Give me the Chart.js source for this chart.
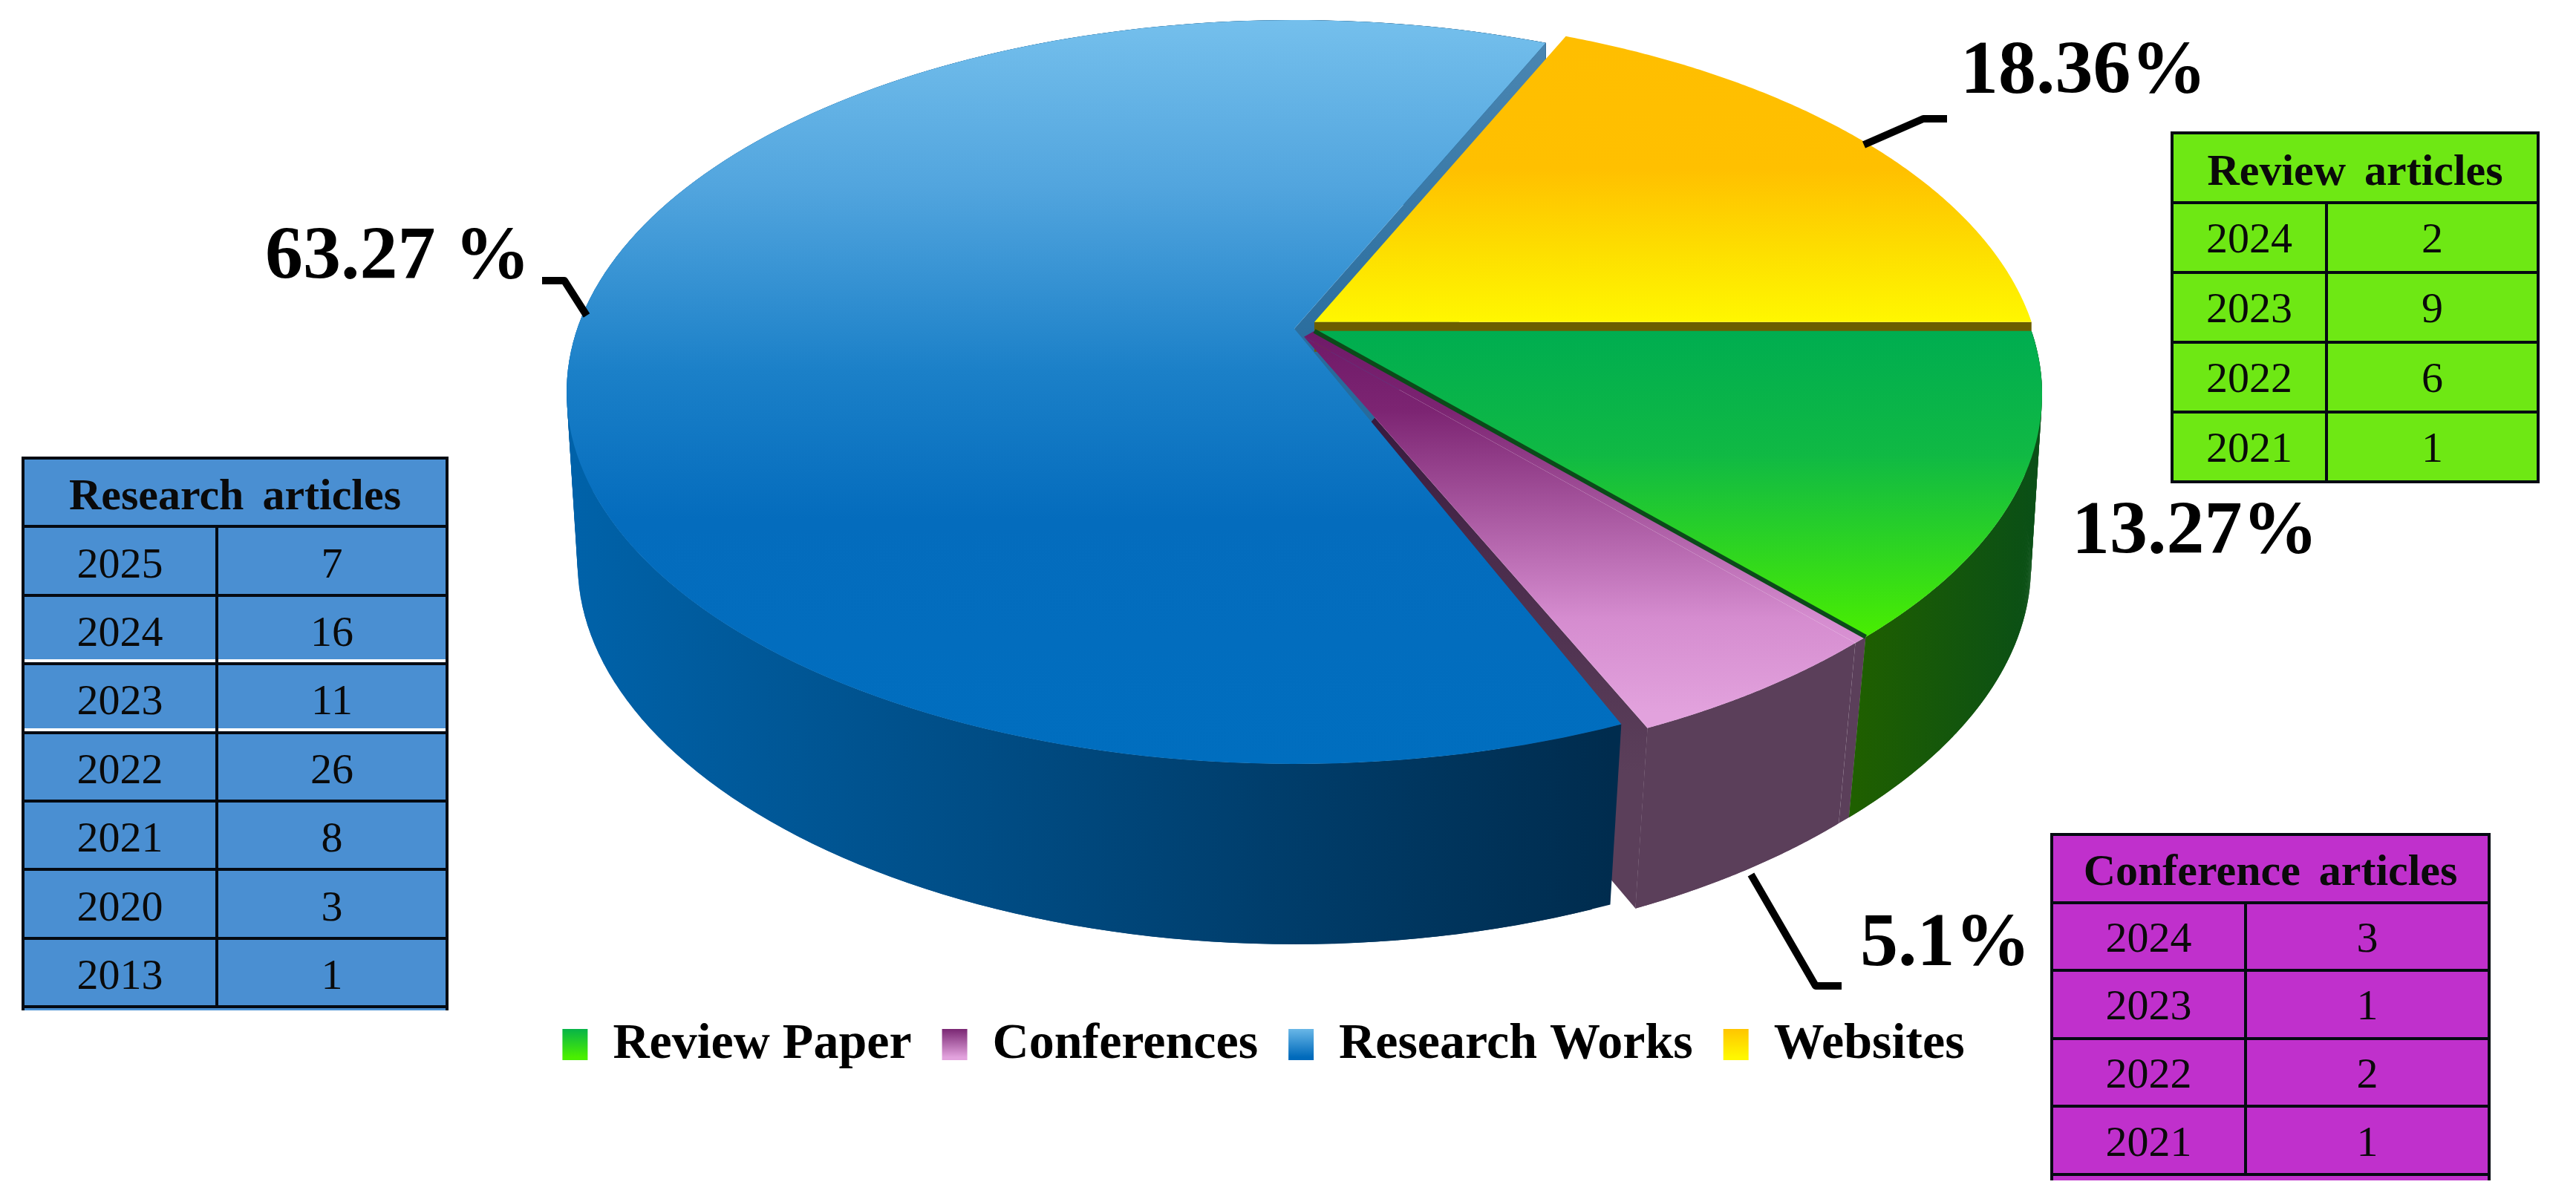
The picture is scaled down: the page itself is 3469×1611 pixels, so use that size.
<!DOCTYPE html>
<html>
<head>
<meta charset="utf-8">
<title>Literature sources</title>
<script src="https://cdn.jsdelivr.net/npm/chart.js@4/dist/chart.umd.min.js"></script>
<style>
  html, body { margin: 0; padding: 0; background: #fff; }
  #wrap { position: relative; width: 3469px; height: 1611px; overflow: hidden; }
  canvas { position: absolute; left: 0; top: 0; }
  table {
    position: absolute; border-collapse: collapse; table-layout: fixed;
    font-family: "Liberation Serif", serif; color: #0a0a0a; text-align: center;
  }
  td, th { border: 4px solid #050a12; padding: 0; }
  th { font-weight: bold; word-spacing: 10px; padding-top: 6px; }
  tr.nick td { box-shadow: inset 0 -4px 0 #fff; }
</style>
</head>
<body>
<div id="wrap">
  <canvas id="chart" width="3469" height="1611"></canvas>
</div>
<script>
// Slices, clockwise from 3 o'clock
const categories = ['Review Paper', 'Conferences', 'Research Works', 'Websites'];
const shares = [13.27, 5.1, 63.27, 18.36];
const shareLabels = ['13.27%', '5.1%', '63.27 %', '18.36%'];

// Article counts per year
const researchYears = ['2025', '2024', '2023', '2022', '2021', '2020', '2013'];
const researchCounts = [7, 16, 11, 26, 8, 3, 1];
const reviewYears = ['2024', '2023', '2022', '2021'];
const reviewCounts = [2, 9, 6, 1];
const conferenceYears = ['2024', '2023', '2022', '2021'];
const conferenceCounts = [3, 1, 2, 1];

// Pie geometry on the page. tilt moves the pie centre off the ellipse centre (perspective)
const pie = { cx: 1759, cy: 523, rx: 980, ry: 501, tilt: 0.17, depth: 243 };

const looks = [
  { // Review
    shift: [11, 8],
    top: [[0, '#00ad50'], [0.4, '#10b944'], [1, '#4aef00']], topY: [446, 862],
    wall: ['#1f5f00', '#0a4f16'], wallX: [2500, 2740]
  },
  { // Conferences
    shift: [-3, 16],
    top: [[0, '#6f1a68'], [0.2, '#7c2472'], [0.75, '#d58ccf'], [1, '#e2a2dd']], topY: [450, 960],
    wall: ['#5b3f5a', '#5b3f5a'], wallX: [2170, 2500],
    face: [[0, '#2c0f36'], [0.5, '#4a2c4c'], [1, '#5b3f5a']]
  },
  { // Research
    shift: [-16, 5], startPad: 0.022,
    top: [[0, '#74bfec'], [0.22, '#52a5de'], [0.47, '#1b80c8'], [0.67, '#046cbd'], [1, '#006ebf']], topY: [30, 1030],
    wall: ['#0062a9', '#002c4e'], wallX: [770, 2170],
    face: [[0, '#4a86b2'], [1, '#276b9c']]
  },
  { // Websites
    shift: [11, -4],
    top: [[0, '#ffbe00'], [0.45, '#ffc000'], [0.75, '#fddf00'], [1, '#fff700']], topY: [60, 434],
    face: '#6b5d00'
  }
];

// Leader lines and where each percentage sits
const leaders = [
  null,
  [[2358, 1178], [2445, 1328], [2480, 1328]],
  [[790, 425], [760, 378], [730, 378]],
  [[2510, 195], [2590, 160], [2622, 160]]
];
const labelAt = [[2790, 719], [2505, 1274], [357, 349], [2640, 99]];

// Rim point of the perspective circle at a canvas angle
function rim(angle, shift) {
  const u = Math.cos(angle), v = -Math.sin(angle);
  const a = pie.tilt, w = 1 + a * v;
  const x = u * Math.sqrt(1 - a * a) / w;
  const y = (v + a) / w;
  return [pie.cx + shift[0] + pie.rx * x, pie.cy + shift[1] - pie.ry * y];
}

function apex(shift) {
  return [pie.cx + shift[0], pie.cy + shift[1] - pie.ry * pie.tilt];
}

// Same point on the underside of the disc, narrower the nearer it is to the viewer
function under(p) {
  const k = Math.min(1, 0.985 - 0.02 * (p[1] - pie.cy) / 450);
  return [pie.cx + (p[0] - pie.cx) * k, p[1] + pie.depth];
}

function vGrad(ctx, stops, y0, y1) {
  if (typeof stops === 'string') return stops;
  const g = ctx.createLinearGradient(0, y0, 0, y1);
  stops.forEach(s => g.addColorStop(s[0], s[1]));
  return g;
}

function hGrad(ctx, cols, x0, x1) {
  const g = ctx.createLinearGradient(x0, 0, x1, 0);
  g.addColorStop(0, cols[0]);
  g.addColorStop(1, cols[1]);
  return g;
}

function poly(ctx, pts, fill) {
  ctx.beginPath();
  pts.forEach((p, i) => i ? ctx.lineTo(p[0], p[1]) : ctx.moveTo(p[0], p[1]));
  ctx.closePath();
  ctx.fillStyle = fill;
  ctx.fill();
}

function rimPoints(s, e, shift) {
  const pts = [];
  const n = 160;
  for (let i = 0; i <= n; i++) pts.push(rim(s + (e - s) * i / n, shift));
  return pts;
}

// overlapping quads, so the side outline runs straight from the top rim to the underside
function drawWall(ctx, look, s, e) {
  const upper = rimPoints(s, e, look.shift);
  const fill = hGrad(ctx, look.wall, look.wallX[0], look.wallX[1]);
  for (let i = 0; i < upper.length - 1; i++) {
    const p = upper[i], q = upper[Math.min(i + 2, upper.length - 1)];
    poly(ctx, [p, q, under(q), under(p)], fill);
  }
}

function drawFace(ctx, look, angle) {
  const a = apex(look.shift), r = rim(angle, look.shift);
  const fill = vGrad(ctx, look.face, Math.min(a[1], r[1]), Math.max(a[1], r[1]) + 60);
  poly(ctx, [a, r, under(r), under(a)], fill);
}

function drawTop(ctx, look, s, e) {
  const pts = [apex(look.shift)].concat(rimPoints(s, e, look.shift));
  poly(ctx, pts, vGrad(ctx, look.top, look.topY[0], look.topY[1]));
}

const pie3d = {
  id: 'pie3d',
  // the library's arcs give the angles; the slices are painted here in perspective
  beforeDatasetsDraw(chart) {
    const ctx = chart.ctx;
    const ang = chart.getDatasetMeta(0).data.map(a => [a.startAngle, a.endAngle]);
    const [rev, conf, res, web] = [0, 1, 2, 3];
    const resStart = ang[res][0] + looks[res].startPad;
    ctx.save();
    // far side first, near side last
    drawFace(ctx, looks[conf], ang[conf][1]);
    drawWall(ctx, looks[res], resStart, ang[res][1]);
    drawFace(ctx, looks[res], ang[res][1]);
    drawTop(ctx, looks[res], resStart, ang[res][1]);
    // brown strip under the yellow slice, the green one hides the rest of it
    const w0 = apex(looks[web].shift), w1 = rim(ang[web][1], looks[web].shift);
    poly(ctx, [w0, w1, [w1[0], w1[1] + 40], [w0[0], w0[1] + 40]], looks[web].face);
    drawTop(ctx, looks[web], ang[web][0], ang[web][1]);
    // pink runs right up to the green slice: close the gap the explode leaves
    const a = apex(looks[rev].shift), r = rim(ang[rev][1], looks[rev].shift);
    const pa = apex(looks[conf].shift), pr = rim(ang[conf][0], looks[conf].shift);
    poly(ctx, [pr, r, under(r), under(pr)], looks[conf].wall[0]);
    drawWall(ctx, looks[conf], ang[conf][0], ang[conf][1]);
    poly(ctx, [a, r, pr, pa], vGrad(ctx, looks[conf].top, looks[conf].topY[0], looks[conf].topY[1]));
    drawTop(ctx, looks[conf], ang[conf][0], ang[conf][1]);
    drawWall(ctx, looks[rev], ang[rev][0], ang[rev][1]);
    drawTop(ctx, looks[rev], ang[rev][0], ang[rev][1]);
    // dark lower edge of the green slice
    ctx.strokeStyle = '#0c4a1a';
    ctx.lineWidth = 6;
    ctx.beginPath();
    ctx.moveTo(a[0], a[1]);
    ctx.lineTo(r[0], r[1]);
    ctx.stroke();
    ctx.restore();
    return false;
  },
  afterDraw(chart) {
    const ctx = chart.ctx;
    ctx.save();
    ctx.strokeStyle = '#000';
    ctx.lineWidth = 10;
    ctx.lineJoin = 'round';
    leaders.forEach(line => {
      if (!line) return;
      ctx.beginPath();
      line.forEach((p, i) => i ? ctx.lineTo(p[0], p[1]) : ctx.moveTo(p[0], p[1]));
      ctx.stroke();
    });
    ctx.fillStyle = '#000';
    ctx.font = 'bold 102px "Liberation Serif"';
    ctx.textBaseline = 'middle';
    shareLabels.forEach((t, i) => ctx.fillText(t, labelAt[i][0], labelAt[i][1]));
    ctx.restore();
  }
};

const ctx = document.getElementById('chart').getContext('2d');

new Chart(ctx, {
  type: 'pie',
  data: {
    labels: categories,
    datasets: [{ data: shares, backgroundColor: looks.map(l => l.top[0][1]), borderWidth: 0 }]
  },
  plugins: [pie3d],
  options: {
    responsive: false,
    animation: false,
    rotation: 90,
    layout: { padding: { bottom: 160, right: 66 } },
    plugins: {
      tooltip: { enabled: false },
      legend: {
        position: 'bottom',
        labels: {
          boxWidth: 34,
          boxHeight: 42,
          padding: 41,
          color: '#111',
          font: { family: '"Liberation Serif"', weight: 'bold', size: 68 },
          generateLabels(chart) {
            const legendSwatch = [
              ['#00ad50', '#4aef00'], ['#6f1a68', '#e2a2dd'], ['#74bfec', '#006abb'], ['#ffc000', '#fff700']
            ];
            return categories.map((name, i) => {
              const g = chart.ctx.createLinearGradient(0, 1382, 0, 1424);
              g.addColorStop(0, legendSwatch[i][0]);
              g.addColorStop(1, legendSwatch[i][1]);
              return { text: name, fillStyle: g, strokeStyle: 'transparent', lineWidth: 0, index: i };
            });
          }
        }
      }
    }
  }
});

// The three side tables
function addTable(title, years, counts, box) {
  const table = document.createElement('table');
  table.style.left = box.x + 'px';
  table.style.top = box.y + 'px';
  table.style.width = box.w + 'px';
  table.style.background = box.color;
  const pad = box.pad ? 'padding-top:' + box.pad + 'px' : '';
  let html = '<colgroup><col style="width:' + box.split + 'px"><col></colgroup>';
  html += '<tr style="height:' + box.row + 'px"><th colspan="2" style="font-size:' + box.head + 'px">' + title + '</th></tr>';
  years.forEach((y, i) => {
    const nick = box.nick && box.nick.includes(i) ? ' class="nick"' : '';
    html += '<tr' + nick + ' style="height:' + box.row + 'px;font-size:' + box.font + 'px"><td style="' + pad + '">' + y + '</td><td style="' + pad + '">' + counts[i] + '</td></tr>';
  });
  if (box.tail) html += '<tr style="height:' + box.tail + 'px;font-size:0"><td colspan="2" style="border-bottom:none"></td></tr>';
  table.innerHTML = html;
  document.getElementById('wrap').appendChild(table);
}

addTable('Research articles', researchYears, researchCounts,
  { x: 29, y: 615, w: 575, split: 261, row: 92.4, head: 60, font: 58, color: '#4a8fd2', nick: [1, 2], pad: 5, tail: 5 });
addTable('Review articles', reviewYears, reviewCounts,
  { x: 2923, y: 177, w: 497, split: 208, row: 94, head: 60, font: 58, color: '#6ee814' });
addTable('Conference articles', conferenceYears, conferenceCounts,
  { x: 2761, y: 1122, w: 593, split: 261, row: 91.6, head: 60, font: 58, color: '#c030cc', pad: 2, tail: 8 });
</script>
</body>
</html>
